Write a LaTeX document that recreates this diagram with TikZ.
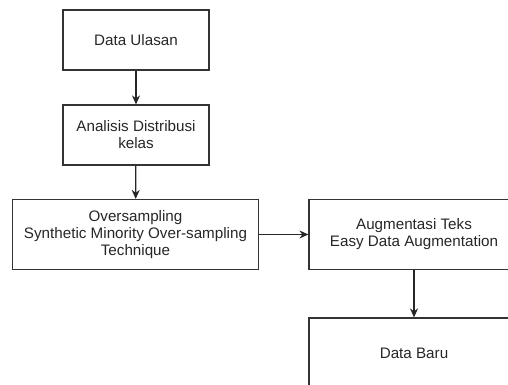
\documentclass[tikz,border=0pt]{standalone}
\usepackage{fontspec}
\setmainfont{Liberation Sans}
\usetikzlibrary{arrows.meta}

\begin{document}
\begin{tikzpicture}[x=1pt,y=-1pt,line width=1.2pt,>={Stealth[length=9pt,width=8pt]},
        kotak/.style={draw=black!80,align=center,inner sep=0pt,font=\fontsize{15.2}{17}\selectfont,text=black!85}]
    \useasboundingbox (0,0) rectangle (508,385);
    \clip (0,0) rectangle (508,385);
    % kotak-kotak
    \node[kotak,minimum width=146pt,minimum height=60pt] (ulasan) at (136,40) {Data Ulasan};
    \node[kotak,minimum width=146pt,minimum height=60pt] (analisis) at (136,135) {Analisis Distribusi\\kelas};
    \node[kotak,minimum width=246pt,minimum height=70pt] (oversampling) at (135.5,234.5) {Oversampling\\Synthetic Minority Over-sampling\\Technique};
    \node[kotak,minimum width=210pt,minimum height=70pt] (augmentasi) at (414,234.5) {Augmentasi Teks\\Easy Data Augmentation};
    \node[kotak,minimum width=210pt,minimum height=70pt] (baru) at (414,353) {Data Baru};
    % panah
    \draw[->,draw=black!85] (ulasan) -- (analisis);
    \draw[->,draw=black!85] (analisis) -- (oversampling);
    \draw[->,draw=black!85] (oversampling) -- (augmentasi);
    \draw[->,draw=black!85] (augmentasi) -- (baru);
\end{tikzpicture}
\end{document}
